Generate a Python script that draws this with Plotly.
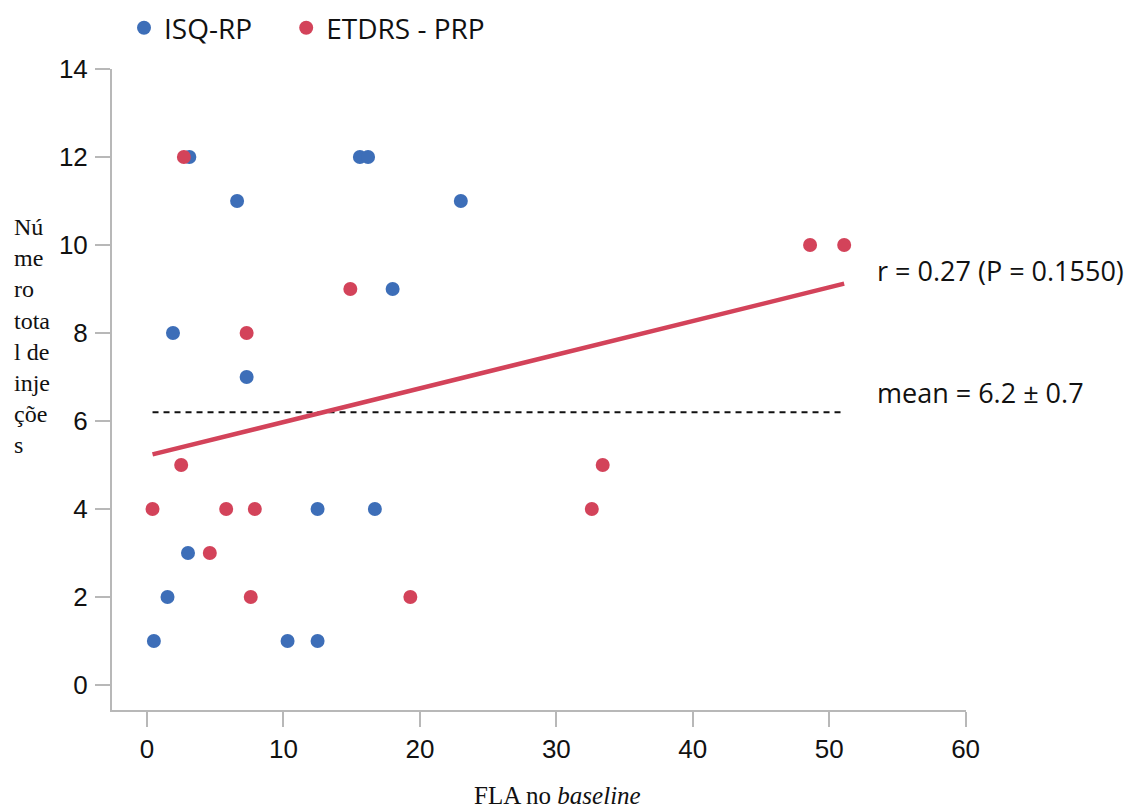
import plotly.graph_objects as go

# ISQ-RP (blue)
isq_x = [3.1, 6.6, 1.9, 7.3, 15.6, 16.2, 23.0, 18.0, 12.5, 16.7, 3.0, 1.5, 0.5, 10.3, 12.5]
isq_y = [12, 11, 8, 7, 12, 12, 11, 9, 4, 4, 3, 2, 1, 1, 1]

# ETDRS - PRP (red)
etdrs_x = [2.7, 48.6, 51.1, 14.9, 7.3, 2.5, 0.4, 5.8, 7.9, 4.6, 7.6, 19.3, 32.6, 33.4]
etdrs_y = [12, 10, 10, 9, 8, 5, 4, 4, 4, 3, 2, 2, 4, 5]

# regression line endpoints and mean line
fit_x = [0.4, 51.1]
fit_y = [5.24, 9.12]
mean_x = [0.4, 51.1]
mean_y = [6.2, 6.2]

x_ticks = [0, 10, 20, 30, 40, 50, 60]
y_ticks = [0, 2, 4, 6, 8, 10, 12, 14]

BLUE = "#3d6eb8"
RED = "#d3435a"
AXC = "#b8b8b8"
NB = "\u00a0"

# page body has an 8px margin: figure coordinates = page coordinates - 8
W, H = 1134, 801
ML, MR, MT, MB = 104, 176, 61, 99
PW = W - ML - MR
PH = H - MT - MB


def fx(page_x):
    return (page_x - 8 - ML) / PW


def fy(page_y):
    return (H - MB - (page_y - 8)) / PH


fig = go.Figure()
fig.add_trace(go.Scatter(x=mean_x, y=mean_y, mode="lines", showlegend=False,
                         line=dict(color="#111111", width=2, dash="6px,5px"), hoverinfo="skip"))
fig.add_trace(go.Scatter(x=fit_x, y=fit_y, mode="lines", showlegend=False,
                         line=dict(color=RED, width=4.5), hoverinfo="skip"))
fig.add_trace(go.Scatter(x=isq_x, y=isq_y, mode="markers", name="ISQ-RP" + NB * 4, cliponaxis=False,
                         marker=dict(color=BLUE, size=14)))
fig.add_trace(go.Scatter(x=etdrs_x, y=etdrs_y, mode="markers", name="ETDRS - PRP", cliponaxis=False,
                         marker=dict(color=RED, size=14)))

axis_common = dict(showline=True, linecolor=AXC, linewidth=2, ticks="outside", ticklen=15,
                   tickwidth=2, tickcolor=AXC, showgrid=False, zeroline=False, automargin=False,
                   tickfont=dict(family="Liberation Sans", size=26, color="#111111"))

fig.update_layout(
    width=W, height=H,
    margin=dict(l=ML, r=MR, t=MT, b=MB, autoexpand=False),
    paper_bgcolor="white", plot_bgcolor="white",
    xaxis=dict(range=[-2.57, 60.03], tickvals=x_ticks, **axis_common),
    yaxis=dict(range=[-0.57, 14.0], tickvals=y_ticks, ticklabelstandoff=2, **axis_common),
    legend=dict(orientation="h", xref="paper", yref="paper", x=fx(124), y=fy(28),
                xanchor="left", yanchor="middle",
                font=dict(family="Open Sans", size=28, color="#111111"),
                itemsizing="trace", bgcolor="rgba(0,0,0,0)"),
    showlegend=True,
)

fig.add_annotation(text="r = 0.27 (P = 0.1550)", xref="paper", yref="paper",
                   x=fx(875), y=fy(270), xanchor="left", yanchor="middle",
                   showarrow=False, font=dict(family="Open Sans", size=27, color="#111111"))
fig.add_annotation(text="mean = 6.2 ± 0.7", xref="paper", yref="paper",
                   x=fx(875), y=fy(392), xanchor="left", yanchor="middle",
                   showarrow=False, font=dict(family="Open Sans", size=27, color="#111111"))
fig.add_annotation(text="Nú<br>me<br>ro<br>tota<br>l de<br>inje<br>çõe<br>s", xref="paper", yref="paper",
                   x=fx(12), y=fy(336), xanchor="left", yanchor="middle",
                   align="left", showarrow=False,
                   font=dict(family="Liberation Serif", size=24, color="#111111"))
fig.add_annotation(text="FLA no <i>baseline</i>", xref="paper", yref="paper",
                   x=fx(557), y=fy(796), xanchor="center", yanchor="middle",
                   showarrow=False, font=dict(family="Liberation Serif", size=25, color="#111111"))

fig.write_html("out.html")
